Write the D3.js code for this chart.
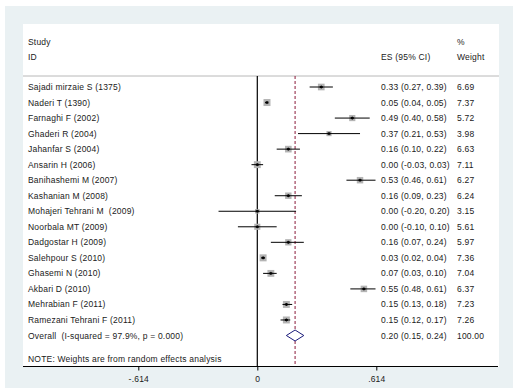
<!DOCTYPE html>
<html><head><meta charset="utf-8">
<script src="https://cdn.jsdelivr.net/npm/d3@7/dist/d3.min.js"></script>
<style>body{margin:0;background:#fff}svg{display:block}text{font-family:"Liberation Sans",Arial,sans-serif;font-size:8.5px;letter-spacing:0.2px;fill:#1a1a1a;white-space:pre}</style>
</head><body><svg id="c" width="519" height="392"></svg>
<script>
const studies = ["Sajadi mirzaie S (1375)","Naderi T (1390)","Farnaghi F (2002)","Ghaderi R (2004)","Jahanfar S (2004)","Ansarin H (2006)","Banihashemi M (2007)","Kashanian M (2008)","Mohajeri Tehrani M  (2009)","Noorbala MT (2009)","Dadgostar H (2009)","Salehpour S (2010)","Ghasemi N (2010)","Akbari D (2010)","Mehrabian F (2011)","Ramezani Tehrani F (2011)"];
const es = [0.33,0.05,0.49,0.37,0.16,0.00,0.53,0.16,0.00,0.00,0.16,0.03,0.07,0.55,0.15,0.15];
const lo = [0.27,0.04,0.40,0.21,0.10,-0.03,0.46,0.09,-0.20,-0.10,0.07,0.02,0.03,0.48,0.13,0.12];
const hi = [0.39,0.05,0.58,0.53,0.22,0.03,0.61,0.23,0.20,0.10,0.24,0.04,0.10,0.61,0.18,0.17];
const weights = [6.69,7.37,5.72,3.98,6.63,7.11,6.27,6.24,3.15,5.61,5.97,7.36,7.04,6.37,7.23,7.26];
const overallLabel = "Overall  (I-squared = 97.9%, p = 0.000)";
const overallES = 0.195, overallLo = 0.15, overallHi = 0.24;
const overallText = "0.20 (0.15, 0.24)", overallWeight = "100.00";
const tickValues = [-0.614, 0, 0.614];
const tickLabels = ["-.614", "0", ".614"];
const note = "NOTE: Weights are from random effects analysis";

const svg = d3.select("#c");
svg.append("rect").attr("x",5).attr("y",6).attr("width",508).attr("height",382).attr("fill","#eaf1f3");
svg.append("rect").attr("x",23).attr("y",24).attr("width",476).attr("height",343).attr("fill","#fff");

const x = d3.scaleLinear().domain([-0.614,0.614]).range([138.3,376.3]);
const y = d3.scaleLinear().domain([0,16]).range([87,335.5]);
const f = v => v.toFixed(2);
const topY = 76, axisY = 366.5;

svg.append("text").attr("x",28).attr("y",45).text("Study");
svg.append("text").attr("x",28).attr("y",60).text("ID");
svg.append("text").attr("x",381).attr("y",60).text("ES (95% CI)");
svg.append("text").attr("x",457).attr("y",45).text("%");
svg.append("text").attr("x",457).attr("y",60).text("Weight");
svg.append("line").attr("x1",23).attr("x2",499).attr("y1",topY).attr("y2",topY).attr("stroke","#b8b8b8").attr("stroke-width",1);

svg.append("line").attr("x1",x(0)).attr("x2",x(0)).attr("y1",topY).attr("y2",axisY).attr("stroke","#000").attr("stroke-width",1.2);
svg.append("line").attr("x1",x(overallES)).attr("x2",x(overallES)).attr("y1",topY).attr("y2",axisY).attr("stroke","#8b1a3a").attr("stroke-width",1).attr("stroke-dasharray","3,2");

const idx = d3.range(studies.length);
const g = svg.append("g");
g.selectAll("rect.sq").data(idx).join("rect").attr("class","sq")
 .attr("fill","#b4b4b4")
 .each(function(i){ const s = 2.58*Math.sqrt(weights[i]);
   d3.select(this).attr("x",x(es[i])-s/2).attr("y",y(i)-s/2).attr("width",s).attr("height",s); });
g.selectAll("line.ci").data(idx).join("line").attr("class","ci")
 .attr("x1",i=>x(lo[i])).attr("x2",i=>x(hi[i])).attr("y1",i=>y(i)).attr("y2",i=>y(i))
 .attr("stroke","#000").attr("stroke-width",1);
g.selectAll("rect.dot").data(idx).join("rect").attr("class","dot")
 .attr("x",i=>x(es[i])-1.5).attr("y",i=>y(i)-1).attr("width",3).attr("height",2).attr("fill","#000");
g.selectAll("line.dotv").data(idx).join("line").attr("class","dotv")
 .attr("x1",i=>x(es[i])).attr("x2",i=>x(es[i])).attr("y1",i=>y(i)-1.5).attr("y2",i=>y(i)+1.5)
 .attr("stroke","#000").attr("stroke-width",1);

g.selectAll("text.st").data(idx).join("text").attr("class","st")
 .attr("x",28).attr("y",i=>y(i)+3).text(i=>studies[i]);
g.selectAll("text.es").data(idx).join("text").attr("class","es")
 .attr("x",381).attr("y",i=>y(i)+3).text(i=>`${f(es[i])} (${f(lo[i])}, ${f(hi[i])})`);
g.selectAll("text.w").data(idx).join("text").attr("class","w")
 .attr("x",457).attr("y",i=>y(i)+3).text(i=>f(weights[i]));

const yo = y(16);
svg.append("path").attr("d",`M${x(overallLo)},${yo}L${x(overallES)},${yo-5.5}L${x(overallHi)},${yo}L${x(overallES)},${yo+5.5}Z`)
 .attr("fill","#fff").attr("stroke","#1a1a7a").attr("stroke-width",1);
svg.append("text").attr("x",28).attr("y",yo+3).text(overallLabel);
svg.append("text").attr("x",381).attr("y",yo+3).text(overallText);
svg.append("text").attr("x",457).attr("y",yo+3).text(overallWeight);
svg.append("text").attr("x",28).attr("y",362).text(note);

svg.append("line").attr("x1",23).attr("x2",498).attr("y1",axisY).attr("y2",axisY).attr("stroke","#000").attr("stroke-width",1.2);
const ax = svg.append("g").attr("transform",`translate(0,${axisY})`)
 .call(d3.axisBottom(x).tickValues(tickValues).tickSize(4).tickFormat((d,i)=>tickLabels[i]));
ax.select(".domain").remove();
ax.selectAll("line").attr("stroke","#000");
ax.selectAll("text").attr("dy","0.71em").attr("y",9).attr("font-family","Liberation Sans").attr("font-size",8.5).attr("fill","#1a1a1a");
</script></body></html>
